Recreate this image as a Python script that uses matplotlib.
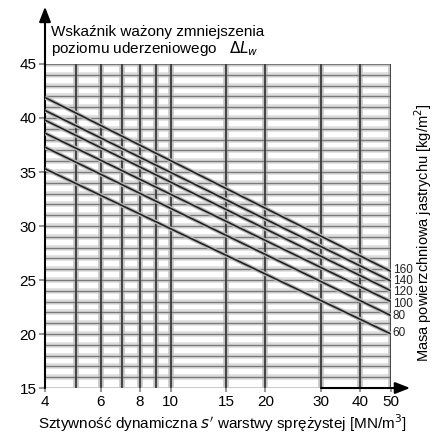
import numpy as np
import matplotlib.pyplot as plt

plt.rcParams['font.family'] = ['Liberation Sans', 'DejaVu Sans']

# surface mass of screed [kg/m2] and DeltaLw at s'=4 and s'=50
masses = [160, 140, 120, 100, 80, 60]
dlw_at_4 = [41.9, 40.7, 39.8, 38.6, 37.3, 35.3]
dlw_at_50 = [25.8, 24.9, 24.0, 23.0, 21.7, 20.0]
label_y = [25.9, 24.9, 23.9, 22.8, 21.7, 20.1]
s_ends = [4, 50]

x_ticks = [4, 6, 8, 10, 15, 20, 30, 40, 50]
x_grid = [5, 6, 7, 8, 9, 10, 15, 20, 30, 40, 50]
y_ticks = [15, 20, 25, 30, 35, 40, 45]
y_grid = list(range(16, 46))

fig = plt.figure(figsize=(4.42, 4.33), dpi=100)
ax = fig.add_axes([0.1018, 0.1039, 0.7828, 0.7483])
ax.set_xscale('log')
ax.set_xlim(4, 50)
ax.set_ylim(15, 45)

# blurry scanned grid
for y in y_grid:
    ax.axhline(y, color='#dddddd', lw=4, zorder=1)
    ax.axhline(y, color='#7a7a7a', lw=1.0, zorder=2)
ax.axhline(15, color='#c4c4c4', lw=2, zorder=2)
for x in x_grid:
    ax.axvline(x, color='#c4c4c4', lw=4, zorder=1)
    ax.axvline(x, color='#3a3a3a', lw=1.3, zorder=3)

# lines for each surface mass
for m, y0, y1, ly in zip(masses, dlw_at_4, dlw_at_50, label_y):
    ax.plot(s_ends, [y0, y1], color='#bbbbbb', lw=3, zorder=4, solid_capstyle='butt')
    ax.plot(s_ends, [y0, y1], color='#222222', lw=1.2, zorder=5)
    ax.text(50.6, ly, str(m), fontsize=8.5, va='center', ha='left', color='#222222')

for sp in ax.spines.values():
    sp.set_visible(False)

ax.set_xticks(x_ticks)
ax.set_xticklabels([str(v) for v in x_ticks])
ax.minorticks_off()
ax.set_yticks(y_ticks)
ax.tick_params(axis='both', labelsize=11, length=4, color='#999999', width=1.5, pad=2)
ax.tick_params(axis='x', length=3, pad=2)

# axes arrows
ax.annotate('', xy=(4, 50.3), xytext=(4, 15), xycoords='data',
            arrowprops=dict(arrowstyle='-|>,head_length=0.9,head_width=0.35', color='black', lw=1.5,
                            shrinkA=0, shrinkB=0), annotation_clip=False)
ax.annotate('', xy=(57.5, 15), xytext=(30, 15), xycoords='data',
            arrowprops=dict(arrowstyle='-|>,head_length=0.9,head_width=0.35', color='black', lw=1.5,
                            shrinkA=0, shrinkB=0), annotation_clip=False)

fig.text(0.115, 0.926, 'Wskaźnik ważony zmniejszenia', fontsize=11, va='center')
fig.text(0.115, 0.889, 'poziomu uderzeniowego   $\\mathit{\\Delta L_w}$', fontsize=11, va='center')

fig.text(0.503, 0.023, "Sztywność dynamiczna $\\mathit{s'}$ warstwy sprężystej [MN/m$^3$]",
         fontsize=11, ha='center', va='center')
fig.text(0.958, 0.462, 'Masa powierzchniowa jastrychu [kg/m$^2$]', fontsize=10.5,
         rotation=90, ha='center', va='center')

fig.savefig('out.png', dpi=100)
